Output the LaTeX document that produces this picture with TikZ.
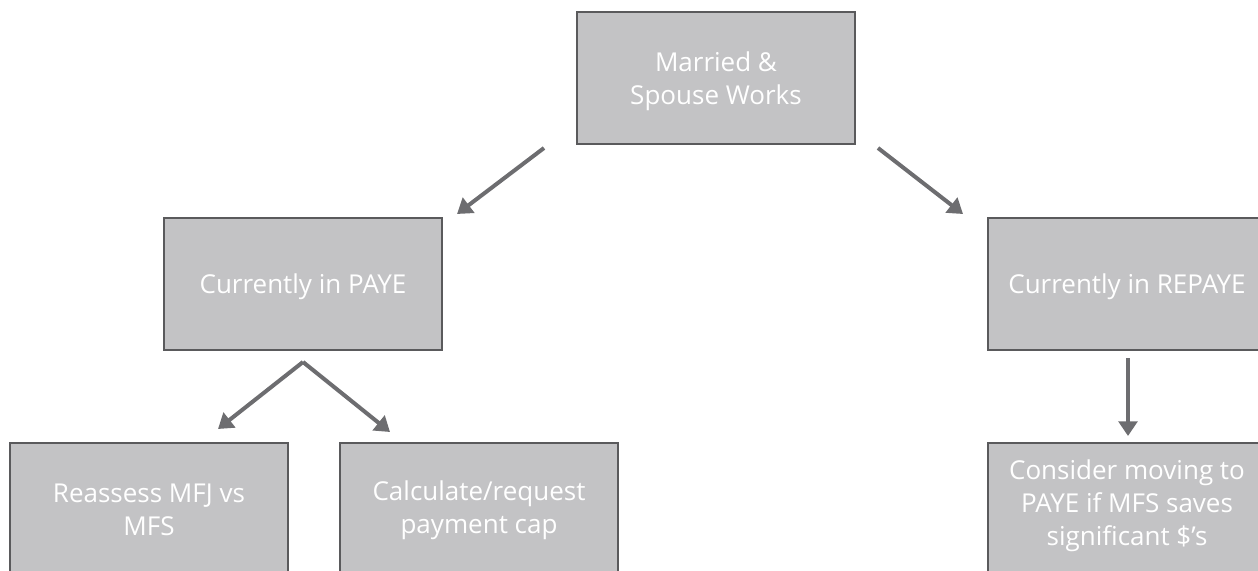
\documentclass[tikz,border=0pt]{standalone}
\usepackage{fontspec}
\setmainfont{Open Sans}
\usetikzlibrary{arrows.meta}
\definecolor{boxfill}{RGB}{195,195,197}
\definecolor{boxline}{RGB}{90,90,92}
\definecolor{arrowc}{RGB}{109,109,112}
\tikzset{
  boxtext/.style={text=white, align=center, font=\fontsize{19.5}{24.8}\selectfont},
  box/.style={draw=boxline, line width=1.5pt, fill=boxfill, minimum width=278*0.75pt, minimum height=132*0.75pt, inner sep=0pt, boxtext},
  arr/.style={draw=arrowc, line width=3pt, -{Triangle[length=11pt,width=14pt]}}
}
\begin{document}
\begin{tikzpicture}[x=0.75pt,y=-0.75pt]
\useasboundingbox (0,0) rectangle (1258,571);
\clip (0,0) rectangle (1258,571);
\node[box] (top) at (716,78) {};
\node[boxtext] (topt) at (716,81) {Married \&\\Spouse Works};
\node[box] (paye) at (303,284) {};
\node[boxtext] (payet) at (303,287) {Currently in PAYE};
\node[box] (repaye) at (1127,284) {};
\node[boxtext] (repayet) at (1127,287) {Currently in REPAYE};
\node[box] (mfj) at (149,509) {};
\node[boxtext] (mfjt) at (149,510) {Reassess MFJ vs\\MFS};
\node[box] (cap) at (479,509) {};
\node[boxtext] (capt) at (479,510) {Calculate/request\\payment cap};
\node[box] (cons) at (1127,509) {};
\node[boxtext] (const) at (1127,506) {Consider moving to\\PAYE if MFS saves\\significant \$’s};
\coordinate (a1s) at (544,148);
\coordinate (a1e) at (457,214);
\coordinate (a2s) at (878,148);
\coordinate (a2e) at (963,214);
\coordinate (apex) at (303,362);
\coordinate (a3e) at (218,429);
\coordinate (a4e) at (390,432);
\coordinate (a5s) at (1128,358);
\coordinate (a5e) at (1128,436);
\draw[arr] (a1s) -- (a1e);
\draw[arr] (a2s) -- (a2e);
\draw[arr] (apex) -- (a3e);
\draw[arr] (apex) -- (a4e);
\draw[arr] (a5s) -- (a5e);
\end{tikzpicture}
\end{document}
